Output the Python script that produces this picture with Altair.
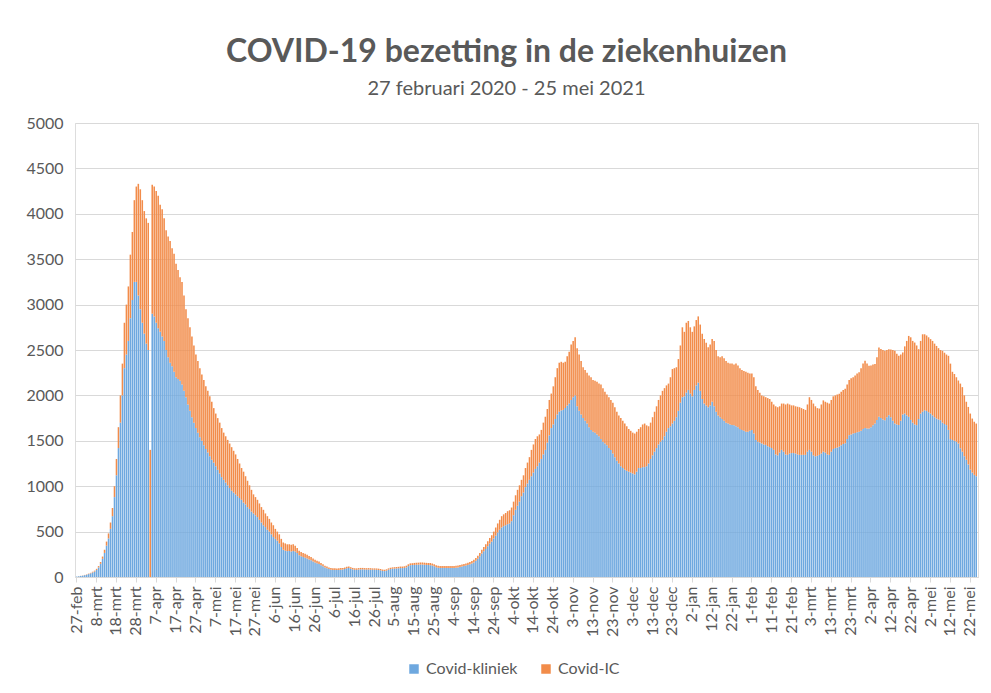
import altair as alt
import pandas as pd

TITLE = "COVID-19 bezetting in de ziekenhuizen"
SUBTITLE = "27 februari 2020 - 25 mei 2021"
SERIES = ["Covid-kliniek", "Covid-IC"]
COLORS = ["#6EA8DF", "#F28C4A"]
Y_TICKS = [0, 500, 1000, 1500, 2000, 2500, 3000, 3500, 4000, 4500, 5000]

TICK_LABELS = [
    "27-feb", "8-mrt", "18-mrt", "28-mrt", "7-apr", "17-apr", "27-apr", "7-mei", "17-mei", "27-mei",
    "6-jun", "16-jun", "26-jun", "6-jul", "16-jul", "26-jul", "5-aug", "15-aug", "25-aug", "4-sep",
    "14-sep", "24-sep", "4-okt", "14-okt", "24-okt", "3-nov", "13-nov", "23-nov", "3-dec", "13-dec",
    "23-dec", "2-jan", "12-jan", "22-jan", "1-feb", "11-feb", "21-feb", "3-mrt", "13-mrt", "23-mrt",
    "2-apr", "12-apr", "22-apr", "2-mei", "12-mei", "22-mei",
]

# daily values, 27 feb 2020 .. 25 mei 2021
KLINIEK = [
    5, 8, 12, 15, 20, 25, 32, 40, 50, 60,
    78, 105, 145, 200, 265, 345, 425, 530, 670, 880,
    1120, 1420, 1700, 2000, 2300, 2450, 2600, 2850, 3050, 3250,
    3250, 3100, 2950, 2800, 2680, 2570, 2500, 0, 2900, 2870,
    2800, 2740, 2700, 2650, 2600, 2500, 2420, 2360, 2320, 2260,
    2200, 2180, 2160, 2120, 2050, 1980, 1900, 1830, 1760, 1700,
    1640, 1590, 1540, 1500, 1450, 1410, 1370, 1330, 1290, 1260,
    1220, 1180, 1140, 1100, 1070, 1040, 1010, 980, 950, 930,
    910, 890, 870, 850, 820, 800, 770, 750, 720, 700,
    680, 660, 630, 600, 570, 550, 520, 500, 470, 440,
    420, 400, 370, 330, 300, 290, 285, 285, 280, 285,
    280, 265, 240, 228, 220, 212, 205, 192, 185, 172,
    160, 152, 144, 130, 118, 105, 96, 87, 80, 78,
    78, 76, 78, 81, 83, 88, 95, 98, 91, 84,
    80, 79, 82, 84, 84, 82, 81, 82, 81, 80,
    80, 79, 77, 73, 67, 65, 70, 80, 87, 91,
    92, 94, 96, 98, 98, 100, 106, 120, 130, 132,
    133, 135, 136, 137, 137, 135, 133, 132, 130, 128,
    118, 108, 103, 100, 98, 98, 100, 100, 98, 98,
    100, 103, 106, 110, 115, 120, 126, 133, 140, 148,
    160, 178, 200, 228, 258, 283, 308, 338, 368, 390,
    425, 455, 490, 520, 546, 560, 570, 582, 590, 615,
    680, 740, 785, 830, 890, 930, 990, 1030, 1070, 1110,
    1150, 1190, 1220, 1260, 1300, 1350, 1400, 1480, 1560, 1640,
    1680, 1740, 1790, 1820, 1835, 1840, 1860, 1890, 1910, 1950,
    1980, 2000, 1880, 1830, 1790, 1750, 1720, 1690, 1650, 1620,
    1600, 1590, 1570, 1550, 1520, 1490, 1470, 1450, 1420, 1400,
    1360, 1320, 1280, 1250, 1220, 1200, 1180, 1170, 1160, 1150,
    1140, 1130, 1160, 1200, 1200, 1210, 1210, 1220, 1250, 1300,
    1340, 1380, 1420, 1460, 1490, 1510, 1550, 1600, 1640, 1660,
    1690, 1720, 1760, 1830, 1920, 1980, 1990, 2030, 2060, 2020,
    1990, 2060, 2110, 2140, 2050, 1960, 1910, 1890, 1870, 1890,
    1930, 1880, 1820, 1780, 1760, 1740, 1720, 1700, 1690, 1680,
    1675, 1670, 1660, 1650, 1630, 1620, 1610, 1600, 1600, 1610,
    1620, 1580, 1510, 1490, 1480, 1470, 1460, 1455, 1440, 1430,
    1420, 1400, 1350, 1340, 1370, 1400, 1380, 1350, 1345, 1360,
    1365, 1365, 1360, 1350, 1345, 1345, 1345, 1345, 1380, 1400,
    1380, 1340, 1330, 1335, 1345, 1360, 1380, 1370, 1350, 1345,
    1380, 1410, 1420, 1425, 1436, 1450, 1465, 1473, 1520, 1560,
    1570, 1580, 1585, 1595, 1600, 1610, 1630, 1640, 1636, 1636,
    1650, 1670, 1690, 1730, 1764, 1750, 1735, 1727, 1760, 1782,
    1760, 1720, 1690, 1680, 1673, 1720, 1790, 1800, 1780, 1764,
    1730, 1700, 1680, 1673, 1740, 1800, 1820, 1836, 1830, 1815,
    1800, 1780, 1760, 1745, 1735, 1727, 1700, 1685, 1673, 1620,
    1520, 1509, 1500, 1491, 1470, 1418, 1380, 1330, 1291, 1240,
    1182, 1150, 1125, 1110,
]

IC = [
    0, 1, 1, 2, 3, 4, 5, 6, 8, 10,
    12, 15, 20, 25, 35, 45, 55, 70, 90, 120,
    180, 230, 300, 350, 500, 550, 600, 700, 750, 900,
    1050, 1230, 1320, 1350, 1350, 1380, 1400, 1400, 1420, 1430,
    1450, 1460, 1400, 1400, 1350, 1320, 1330, 1340, 1300, 1300,
    1250, 1200, 1140, 1130, 1050, 970, 950, 920, 890, 850,
    810, 790, 760, 730, 720, 690, 680, 660, 640, 600,
    580, 570, 560, 540, 520, 510, 500, 490, 480, 460,
    440, 410, 380, 350, 340, 310, 290, 260, 240, 210,
    200, 190, 180, 170, 170, 150, 150, 140, 130, 130,
    110, 100, 100, 90, 80, 80, 75, 75, 75, 75,
    65, 55, 50, 47, 45, 43, 40, 38, 35, 33,
    30, 28, 26, 25, 22, 20, 19, 18, 18, 17,
    17, 17, 17, 17, 17, 17, 17, 17, 17, 16,
    16, 16, 16, 16, 16, 16, 16, 16, 16, 15,
    15, 15, 15, 15, 15, 15, 15, 15, 15, 15,
    16, 16, 16, 17, 17, 18, 19, 20, 20, 20,
    22, 22, 22, 23, 23, 23, 23, 23, 23, 22,
    22, 22, 22, 22, 22, 22, 22, 22, 22, 22,
    22, 22, 22, 22, 23, 23, 24, 25, 25, 27,
    30, 32, 35, 37, 42, 47, 52, 57, 62, 70,
    75, 90, 100, 110, 124, 130, 135, 143, 145, 150,
    150, 160, 175, 180, 180, 190, 210, 230, 250, 290,
    310, 330, 330, 310, 320, 350, 365, 370, 390, 380,
    420, 460, 510, 540, 535, 520, 510, 540, 570, 610,
    620, 640, 640, 620, 590, 560, 560, 560, 570, 580,
    570, 570, 580, 580, 600, 590, 570, 560, 560, 550,
    560, 550, 540, 530, 530, 520, 510, 490, 470, 460,
    450, 450, 440, 430, 450, 470, 480, 450, 410, 400,
    420, 440, 460, 490, 510, 540, 530, 510, 490, 540,
    600, 580, 550, 570, 630, 770, 710, 770, 760, 730,
    710, 700, 720, 730, 730, 720, 710, 690, 660, 670,
    690, 720, 680, 650, 660, 690, 690, 680, 670, 670,
    675, 670, 690, 680, 670, 660, 660, 660, 650, 630,
    620, 620, 590, 570, 550, 530, 530, 525, 530, 530,
    510, 500, 530, 530, 510, 510, 530, 550, 565, 540,
    525, 525, 520, 525, 525, 515, 505, 495, 520, 580,
    570, 570, 550, 525, 510, 540, 565, 560, 570, 565,
    570, 580, 580, 585, 582, 590, 595, 600, 600, 610,
    620, 620, 635, 645, 655, 690, 720, 742, 714, 691,
    680, 670, 655, 690, 763, 760, 765, 764, 740, 727,
    745, 780, 801, 780, 763, 730, 683, 740, 820, 891,
    910, 900, 902, 877, 769, 800, 853, 837, 830, 825,
    820, 820, 810, 800, 785, 773, 791, 785, 777, 816,
    830, 751, 736, 709, 694, 712, 711, 670, 639, 633,
    618, 595, 585, 580,
]

n = len(KLINIEK)
rows = []
for i in range(n):
    rows.append({"dag": i, "serie": SERIES[0], "ord": 0, "waarde": KLINIEK[i]})
    rows.append({"dag": i, "serie": SERIES[1], "ord": 1, "waarde": IC[i]})
df = pd.DataFrame(rows)

label_expr = "[" + ",".join("'" + t + "'" for t in TICK_LABELS) + "][datum.value / 10]"
TEXT = "#595959"
GRID = "#D9D9D9"

chart = alt.Chart(df).mark_bar().encode(
    x=alt.X(
        "dag:O",
        scale=alt.Scale(domain=list(range(n)), paddingInner=0.22, paddingOuter=0.5),
        axis=alt.Axis(
            values=list(range(0, n, 10)), labelExpr=label_expr, labelAngle=-90,
            title=None, labelFontSize=16, labelColor=TEXT, labelPadding=4,
            domainColor=GRID, tickColor=GRID, tickSize=5, labelFont="Lato",
        ),
    ),
    y=alt.Y(
        "waarde:Q", stack="zero", scale=alt.Scale(domain=[0, 5000]),
        axis=alt.Axis(
            values=Y_TICKS, format="d", title=None, labelFontSize=16, labelColor=TEXT,
            labelPadding=12, domain=False, ticks=False, gridColor=GRID,
            minExtent=45, maxExtent=45, labelFont="Lato",
        ),
    ),
    color=alt.Color(
        "serie:N", scale=alt.Scale(domain=SERIES, range=COLORS),
        legend=alt.Legend(
            title=None, orient="none", direction="horizontal", legendX=331, legendY=538,
            symbolType="square", symbolSize=90, symbolStrokeWidth=0, labelFontSize=16,
            labelColor=TEXT, labelFont="Lato", columnPadding=20, labelOffset=4,
        ),
    ),
    order=alt.Order("ord:Q", sort="ascending"),
).properties(
    width=975, height=454,
    autosize=alt.AutoSizeParams(type="fit-x", contains="padding"),
    padding={"left": 17, "top": 28, "right": 5, "bottom": 45},
    title=alt.TitleParams(
        TITLE, subtitle=SUBTITLE, anchor="middle", fontSize=32, fontWeight="bold",
        color=TEXT, subtitleColor=TEXT, subtitleFontSize=20, subtitlePadding=10,
        font="Lato", subtitleFont="Lato", offset=15, dx=-20,
    ),
).configure_view(stroke=None).configure(font="Lato")

chart.save("out.html", embed_options={"renderer": "svg", "actions": False})
